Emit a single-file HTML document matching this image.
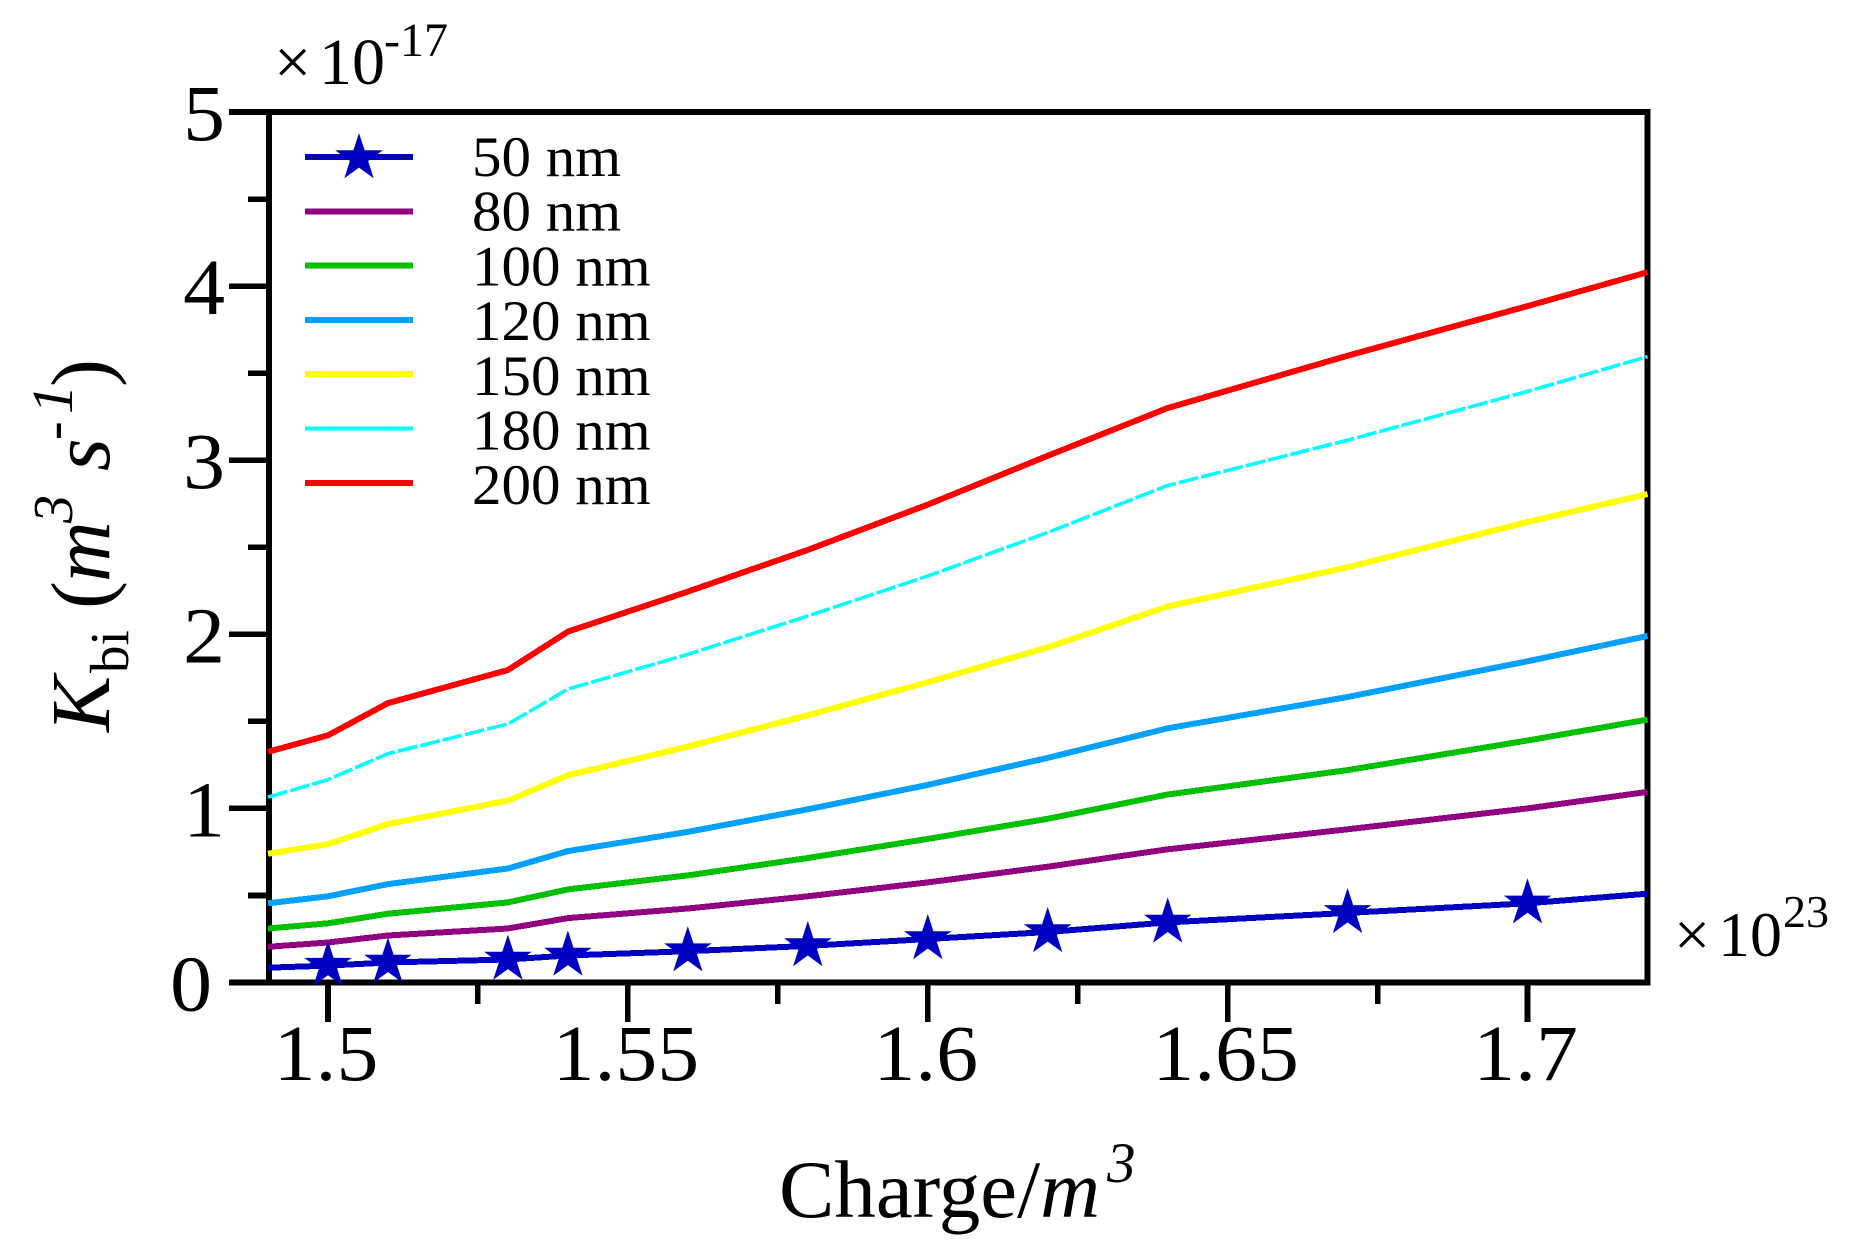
<!DOCTYPE html>
<html lang="en">
<head>
<meta charset="utf-8">
<title>Kbi versus charge density</title>
<style>
html,body{margin:0;padding:0;background:#fff;width:1853px;height:1253px;overflow:hidden}
svg{display:block}
text{font-family:"Liberation Serif",serif;fill:#000}
.it{font-style:italic}
</style>
</head>
<body>
<svg id="chart" xmlns="http://www.w3.org/2000/svg" width="1853" height="1253" viewBox="0 0 1853 1253">
  <g id="axes"></g>
  <g id="y-title" transform="translate(109,732) rotate(-90)">
    <text class="it" x="0" y="0" font-size="84">K</text>
    <text x="59" y="19" font-size="55">bi</text>
    <text x="123" y="0" font-size="84">(</text>
    <text class="it" x="150" y="0" font-size="84">m</text>
    <text class="it" x="209" y="-37" font-size="56">3</text>
    <text class="it" x="261" y="0" font-size="84">s</text>
    <text class="it" x="292" y="-37" font-size="56">-</text>
    <text class="it" x="318" y="-37" font-size="58">1</text>
    <text x="345" y="0" font-size="84">)</text>
  </g>
  <g>
    <text transform="translate(779,1217) scale(1.012,1)" font-size="82">Charge/<tspan class="it">m</tspan></text>
    <text class="it" x="1107" y="1182" font-size="57">3</text>
  </g>
  <g>
    <text x="274" y="84" font-size="66">×</text>
    <text x="319" y="84" font-size="66">10</text>
    <text x="384" y="56" font-size="48">-17</text>
  </g>
  <g>
    <text x="1674" y="956" font-size="64">×</text>
    <text x="1718" y="956" font-size="64">10</text>
    <text x="1783" y="927" font-size="46">23</text>
  </g>
  <g id="series"></g>
  <g id="legend"></g>
</svg>
<script>
const charge = [1.49, 1.5, 1.51, 1.53, 1.54, 1.56, 1.58, 1.6, 1.62, 1.64, 1.67, 1.7, 1.72];
const kbi50 = [0.085, 0.097, 0.115, 0.132, 0.155, 0.18, 0.21, 0.25, 0.29, 0.345, 0.4, 0.455, 0.51];
const kbi80 = [0.205, 0.23, 0.27, 0.31, 0.37, 0.425, 0.495, 0.575, 0.665, 0.765, 0.88, 1.0, 1.095];
const kbi100 = [0.31, 0.34, 0.395, 0.46, 0.535, 0.615, 0.715, 0.825, 0.94, 1.08, 1.22, 1.39, 1.51];
const kbi120 = [0.455, 0.495, 0.565, 0.655, 0.755, 0.865, 0.995, 1.135, 1.29, 1.46, 1.64, 1.845, 1.99];
const kbi150 = [0.74, 0.795, 0.91, 1.045, 1.19, 1.355, 1.535, 1.725, 1.925, 2.16, 2.385, 2.645, 2.805];
const kbi180 = [1.065, 1.165, 1.315, 1.485, 1.685, 1.885, 2.105, 2.335, 2.585, 2.855, 3.115, 3.395, 3.595];
const kbi200 = [1.325, 1.42, 1.605, 1.795, 2.015, 2.245, 2.485, 2.745, 3.025, 3.3, 3.6, 3.885, 4.08];
const seriesLabels = ['50 nm', '80 nm', '100 nm', '120 nm', '150 nm', '180 nm', '200 nm'];
const starCharge = [1.5, 1.51, 1.53, 1.54, 1.56, 1.58, 1.6, 1.62, 1.64, 1.67, 1.7];
const xTickLabels = ['1.5', '1.55', '1.6', '1.65', '1.7'];
const xMinorTicks = [1.525, 1.575, 1.625, 1.675];
const yTickLabels = ['0', '1', '2', '3', '4', '5'];
const yMinorTicks = [0.5, 1.5, 2.5, 3.5, 4.5];

const seriesValues = [kbi50, kbi80, kbi100, kbi120, kbi150, kbi180, kbi200];
const seriesColors = ['#0000c0', '#900080', '#00c000', '#00a0ff', '#ffff00', '#00ffff', '#ff0000'];

const NS = 'http://www.w3.org/2000/svg';
const plot = { left: 268, right: 1647.5, top: 112, bottom: 982.5 };
const xMin = 1.49, xMax = 1.72, yMin = 0, yMax = 5;
function xScale(v) { return plot.left + (v - xMin) / (xMax - xMin) * (plot.right - plot.left); }
function yScale(v) { return plot.bottom - (v - yMin) / (yMax - yMin) * (plot.bottom - plot.top); }

function make(tag, attrs, parent) {
  const el = document.createElementNS(NS, tag);
  for (const k in attrs) el.setAttribute(k, attrs[k]);
  parent.appendChild(el);
  return el;
}
function starPoints(cx, cy, R) {
  const r = R * 0.382, pts = [];
  for (let i = 0; i < 10; i++) {
    const a = -Math.PI / 2 + i * Math.PI / 5, q = i % 2 ? r : R;
    pts.push((cx + q * Math.cos(a)).toFixed(1) + ',' + (cy + q * Math.sin(a)).toFixed(1));
  }
  return pts.join(' ');
}

const axes = document.getElementById('axes');
const AXW = 5.6;
const box = make('path', { d: 'M229 ' + plot.top + 'H' + plot.right + 'V' + plot.bottom + 'H229M' + (plot.left + 1) + ' ' + plot.top + 'V' + plot.bottom, fill: 'none', stroke: '#000', 'stroke-width': AXW, 'shape-rendering': 'crispEdges' }, axes);



yTickLabels.forEach(function (lab) {
  const y = yScale(parseFloat(lab));
  const t = make('line', { x1: 229, x2: plot.left, y1: y, y2: y, stroke: '#000', 'stroke-width': AXW, 'shape-rendering': 'crispEdges' }, axes);
  
  
  const labelX = lab === '0' ? 212 : 225;
  const l = make('text', { transform: 'translate(' + labelX + ',' + (y + 28) + ') scale(1.06,1)', 'font-size': 79, 'text-anchor': 'end' }, axes);
  l.textContent = lab;
  
  
});
yMinorTicks.forEach(function (v) {
  const y = yScale(v);
  const t = make('line', { x1: 248, x2: plot.left, y1: y, y2: y, stroke: '#000', 'stroke-width': AXW, 'shape-rendering': 'crispEdges' }, axes);
  
  
});
xTickLabels.forEach(function (lab) {
  const x = xScale(parseFloat(lab));
  const t = make('line', { x1: x, x2: x, y1: plot.bottom, y2: 1022, stroke: '#000', 'stroke-width': AXW, 'shape-rendering': 'crispEdges' }, axes);
  
  
  const l = make('text', { transform: 'translate(' + (x - 2) + ',1080) scale(1.06,1)', 'font-size': 79, 'text-anchor': 'middle' }, axes);
  l.textContent = lab;
  
  
});
xMinorTicks.forEach(function (v) {
  const x = xScale(v);
  const t = make('line', { x1: x, x2: x, y1: plot.bottom, y2: 1004, stroke: '#000', 'stroke-width': AXW, 'shape-rendering': 'crispEdges' }, axes);
  
  
});

const seriesGroup = document.getElementById('series');
const legend = document.getElementById('legend');
seriesValues.forEach(function (vals, s) {
  const cyan = seriesLabels[s] === '180 nm';
  const d = vals.map(function (v, i) { return (i ? 'L' : 'M') + xScale(charge[i]).toFixed(1) + ' ' + yScale(v).toFixed(1); }).join('');
  const p = make('path', { d: d, fill: 'none', stroke: seriesColors[s], 'stroke-width': cyan ? 3.6 : 6, 'stroke-linejoin': 'round', 'shape-rendering': 'crispEdges' }, seriesGroup);
  if (cyan) p.setAttribute('stroke-dasharray', '20 3');
  
  

  const ly = 157 + s * 54.3;
  const ll = make('line', { x1: 305, x2: 413, y1: ly, y2: ly, stroke: seriesColors[s], 'stroke-width': cyan ? 4 : 6, 'shape-rendering': 'crispEdges' }, legend);
  
  
  const lt = make('text', { transform: 'translate(472,' + (ly + 19 + s * 0.4) + ') scale(1.035,1)', 'font-size': 57 }, legend);
  lt.textContent = seriesLabels[s];
  
  
});

starCharge.forEach(function (c) {
  const i = charge.indexOf(c);
  const st = make('polygon', { points: starPoints(xScale(c), yScale(kbi50[i]), 25), fill: seriesColors[0] }, seriesGroup);
  
  
});
const legendStar = make('polygon', { points: starPoints(359, 158, 25), fill: seriesColors[0] }, legend);


</script>
</body>
</html>
